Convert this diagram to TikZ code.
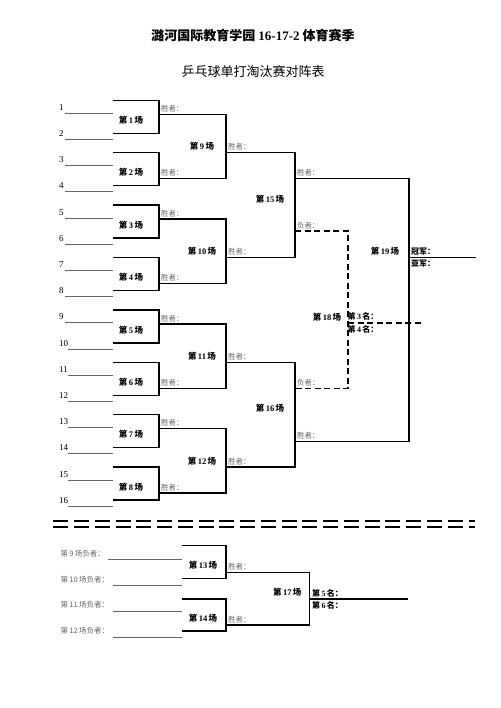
\documentclass[tikz,border=0pt]{standalone}
\usepackage{fontspec}
\setmainfont{Liberation Serif}
\newfontfamily\cjk{Noto Sans CJK SC}
\usepackage{tikz}
\usetikzlibrary{positioning}

\newcommand\chang[1]{{\cjk 第}\,#1\,{\cjk 场}}
\newcommand\ming[1]{{\cjk 第}\,#1\,{\cjk 名：}}
\newcommand\fuzhe[1]{{\cjk 第}\,#1\,{\cjk 场负者：}}

\begin{document}
\begin{tikzpicture}[x=1pt,y=-1pt,
    bracket/.style={line width=1.4pt},
    pline/.style={line width=1pt,black!60},
    lost/.style={line width=1.4pt,dash pattern=on 6pt off 3.5pt},
    mlabel/.style={font=\bfseries\fontsize{8.5}{10}\selectfont,inner sep=1pt},
    place/.style={font=\bfseries\fontsize{8}{9}\selectfont,inner sep=1pt},
    win/.style={font=\cjk\fontsize{7.5}{9}\selectfont,text=black!60,anchor=south west,inner sep=1pt},
    num/.style={font=\fontsize{9}{10}\selectfont,anchor=south west,inner sep=1pt}]

    \useasboundingbox (0,0) rectangle (500,708);

    \node[font=\cjk\bfseries\fontsize{13}{15}\selectfont] (title) at (253,35) {潞河国际教育学园 {\rmfamily 16-17-2} 体育赛季};
    \node[font=\cjk\fontsize{13}{15}\selectfont] (subtitle) at (253,72) {乒乓球单打淘汰赛对阵表};

    % players
    \draw[pline] (65,113.3) -- (113,113.3);
    \draw[pline] (65,139.5) -- (113,139.5);
    \draw[pline] (65,165.7) -- (113,165.7);
    \draw[pline] (65,191.9) -- (113,191.9);
    \draw[pline] (65,218.1) -- (113,218.1);
    \draw[pline] (65,244.3) -- (113,244.3);
    \draw[pline] (65,270.5) -- (113,270.5);
    \draw[pline] (65,296.7) -- (113,296.7);
    \draw[pline] (65,322.9) -- (113,322.9);
    \draw[pline] (68,349.1) -- (113,349.1);
    \draw[pline] (68,375.3) -- (113,375.3);
    \draw[pline] (68,401.5) -- (113,401.5);
    \draw[pline] (68,427.7) -- (113,427.7);
    \draw[pline] (68,453.9) -- (113,453.9);
    \draw[pline] (68,480.1) -- (113,480.1);
    \draw[pline] (68,506.3) -- (113,506.3);

    \node[num] (p1) at (58,111.5) {1};
    \node[num] (p2) at (58,137.7) {2};
    \node[num] (p3) at (58,163.9) {3};
    \node[num] (p4) at (58,190.1) {4};
    \node[num] (p5) at (58,216.3) {5};
    \node[num] (p6) at (58,242.5) {6};
    \node[num] (p7) at (58,268.7) {7};
    \node[num] (p8) at (58,294.9) {8};
    \node[num] (p9) at (58,321.1) {9};
    \node[num] (p10) at (58,347.3) {10};
    \node[num] (p11) at (58,373.5) {11};
    \node[num] (p12) at (58,399.7) {12};
    \node[num] (p13) at (58,425.9) {13};
    \node[num] (p14) at (58,452.1) {14};
    \node[num] (p15) at (58,478.3) {15};
    \node[num] (p16) at (58,504.5) {16};

    % first round
    \draw[bracket] (113,100.3) -| (159,133.3) -- (113,133.3);
    \draw[bracket] (113,152.7) -| (159,185.7) -- (113,185.7);
    \draw[bracket] (113,205.1) -| (159,238.1) -- (113,238.1);
    \draw[bracket] (113,257.5) -| (159,290.5) -- (113,290.5);
    \draw[bracket] (113,309.9) -| (159,342.9) -- (113,342.9);
    \draw[bracket] (113,362.3) -| (159,395.3) -- (113,395.3);
    \draw[bracket] (113,414.7) -| (159,447.7) -- (113,447.7);
    \draw[bracket] (113,467.1) -| (159,500.1) -- (113,500.1);

    \node[mlabel] (m1) at (131,120.3) {\chang{1}};
    \node[mlabel] (m2) at (131,172.7) {\chang{2}};
    \node[mlabel] (m3) at (131,225.1) {\chang{3}};
    \node[mlabel] (m4) at (131,277.5) {\chang{4}};
    \node[mlabel] (m5) at (131,329.9) {\chang{5}};
    \node[mlabel] (m6) at (131,382.3) {\chang{6}};
    \node[mlabel] (m7) at (131,434.7) {\chang{7}};
    \node[mlabel] (m8) at (131,487.1) {\chang{8}};

    % second round
    \draw[bracket] (159,114.3) -| (226,178.7) -- (159,178.7);
    \draw[bracket] (159,219.1) -| (226,283.5) -- (159,283.5);
    \draw[bracket] (159,323.9) -| (226,388.3) -- (159,388.3);
    \draw[bracket] (159,428.7) -| (226,493.1) -- (159,493.1);

    \node[win] (w1) at (160,113.3) {胜者：};
    \node[win] (w2) at (160,177.7) {胜者：};
    \node[win] (w3) at (160,218.1) {胜者：};
    \node[win] (w4) at (160,282.5) {胜者：};
    \node[win] (w5) at (160,322.9) {胜者：};
    \node[win] (w6) at (160,387.3) {胜者：};
    \node[win] (w7) at (160,427.7) {胜者：};
    \node[win] (w8) at (160,492.1) {胜者：};

    \node[mlabel] (m9) at (202,146.5) {\chang{9}};
    \node[mlabel] (m10) at (202,251.3) {\chang{10}};
    \node[mlabel] (m11) at (202,356.1) {\chang{11}};
    \node[mlabel] (m12) at (202,460.9) {\chang{12}};

    % third round
    \draw[bracket] (226,152.7) -| (295,257.5) -- (226,257.5);
    \draw[bracket] (226,362.3) -| (295,467.1) -- (226,467.1);

    \node[win] (w9) at (227,151.7) {胜者：};
    \node[win] (w10) at (227,256.5) {胜者：};
    \node[win] (w11) at (227,361.3) {胜者：};
    \node[win] (w12) at (227,466.1) {胜者：};

    \node[mlabel] (m15) at (270,199) {\chang{15}};
    \node[mlabel] (m16) at (270,408) {\chang{16}};

    % final and third place
    \draw[bracket] (295,178.7) -- (409,178.7);
    \draw[bracket] (295,441.7) -- (409,441.7);
    \draw[line width=2pt] (409,178) -- (409,442.4);
    \draw[bracket] (409,257.3) -- (476,257.3);
    \draw[lost] (295,231.1) -| (348,388.3) -- (295,388.3);
    \draw[lost] (348,322.9) -- (423,322.9);

    \node[win] (w15) at (296,177.7) {胜者：};
    \node[win] (l15) at (296,230.1) {负者：};
    \node[win] (l16) at (296,387.3) {负者：};
    \node[win] (w16) at (296,440.7) {胜者：};

    \node[mlabel] (m19) at (385,251) {\chang{19}};
    \node[place,anchor=south west] (gold) at (410,256.3) {\cjk 冠军：};
    \node[place,anchor=north west] (silver) at (410,258.5) {\cjk 亚军：};

    \node[mlabel] (m18) at (327,317) {\chang{18}};
    \node[place,anchor=south west] (third) at (346.5,321.9) {\ming{3}};
    \node[place,anchor=north west] (fourth) at (346.5,324.2) {\ming{4}};

    % separator
    \draw[line width=1.8pt,dash pattern=on 15pt off 5.76pt] (53.3,521) -- (475,521);
    \draw[line width=1.8pt,dash pattern=on 15pt off 5.76pt] (53.3,527) -- (475,527);

    % fifth place
    \node[win,text=black!60,anchor=west] (f9) at (59.5,553.3) {\fuzhe{9}};
    \node[win,text=black!60,anchor=west] (f10) at (59.5,579.3) {\fuzhe{10}};
    \node[win,text=black!60,anchor=west] (f11) at (59.5,605) {\fuzhe{11}};
    \node[win,text=black!60,anchor=west] (f12) at (59.5,630.7) {\fuzhe{12}};

    \draw[pline] (108,559) -- (181.7,559);
    \draw[pline] (112.7,585.7) -- (181.7,585.7);
    \draw[pline] (112.7,611.7) -- (181.7,611.7);
    \draw[pline] (112.7,637.7) -- (181.7,637.7);

    \draw[bracket] (181.7,545.7) -| (226,578.7) -- (181.7,578.7);
    \draw[bracket] (181.7,599) -| (226,631) -- (181.7,631);
    \draw[bracket] (226,572.3) -| (309.3,625) -- (226,625);
    \draw[bracket] (309.3,599) -- (408.3,599);

    \node[mlabel] (m13) at (203,565.7) {\chang{13}};
    \node[mlabel] (m14) at (203,618.3) {\chang{14}};
    \node[win] (w13) at (227,571.3) {胜者：};
    \node[win] (w14) at (227,624) {胜者：};

    \node[mlabel] (m17) at (287.3,592.3) {\chang{17}};
    \node[place,anchor=south west] (fifth) at (311,598) {\ming{5}};
    \node[place,anchor=north west] (sixth) at (311,600.3) {\ming{6}};
\end{tikzpicture}
\end{document}
